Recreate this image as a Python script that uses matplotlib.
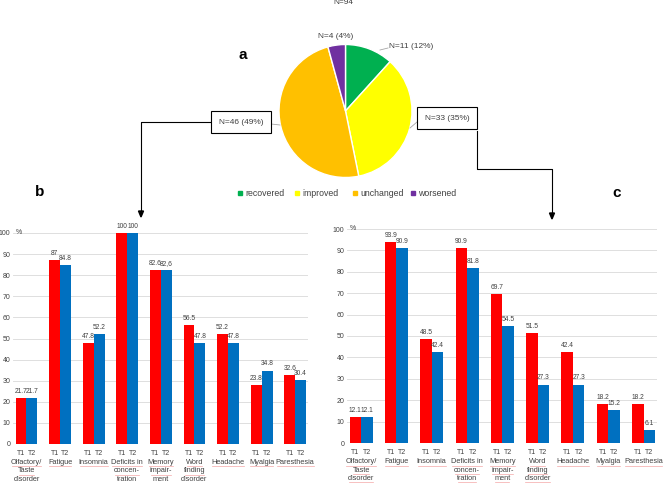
import numpy as np
import matplotlib.pyplot as plt
from matplotlib.lines import Line2D

plt.rcParams['font.family'] = ['Liberation Sans', 'DejaVu Sans']

# data
pie_labels = ['recovered', 'improved', 'unchanged', 'worsened']
pie_counts = [11, 33, 46, 4]
pie_colors = ['#00B050', '#FFFF00', '#FFC000', '#7030A0']

categories = ['Olfactory/\nTaste\ndisorder', 'Fatigue', 'Insomnia',
              'Deficits in\nconcen-\ntration', 'Memory\nimpair-\nment',
              'Word\nfinding\ndisorder', 'Headache', 'Myalgia', 'Paresthesia']
b_t1 = [21.7, 87, 47.8, 100, 82.6, 56.5, 52.2, 28.0, 32.6]
b_t2 = [21.7, 84.8, 52.2, 100, 82.6, 47.8, 47.8, 34.8, 30.4]
b_t1_txt = ['21.7', '87', '47.8', '100', '82.6', '56.5', '52.2', '23.8', '32.6']
b_t2_txt = ['21.7', '84.8', '52.2', '100', '82,6', '47.8', '47.8', '34.8', '30.4']
c_t1 = [12.1, 93.9, 48.5, 90.9, 69.7, 51.5, 42.4, 18.2, 18.2]
c_t2 = [12.1, 90.9, 42.4, 81.8, 54.5, 27.3, 27.3, 15.2, 6.1]

W, H = 669, 483
fig = plt.figure(figsize=(W / 100, H / 100), dpi=100)


def fx(x):
    return x / W


def fy(y):
    return 1 - y / H


RED = '#FF0000'
BLUE = '#0070C0'
TXT = '#404040'
cat_texts = []


def bar_panel(rect, t1, t2, t1_txt, t2_txt):
    ax = fig.add_axes(rect)
    x = np.arange(len(categories))
    w = 0.325
    ax.bar(x - w / 2, t1, w, color=RED, zorder=3)
    ax.bar(x + w / 2, t2, w, color=BLUE, zorder=3)
    for i in range(len(x)):
        ax.text(x[i] - w / 2, t1[i] + 1.5, t1_txt[i], ha='center', va='bottom',
                fontsize=4.8, color=TXT)
        ax.text(x[i] + w / 2, t2[i] + 1.5, t2_txt[i], ha='center', va='bottom',
                fontsize=4.8, color=TXT)
    ax.set_ylim(0, 100)
    ax.set_xlim(-0.4, len(x) - 0.62)
    ax.set_yticks(np.arange(0, 101, 10))
    ax.yaxis.grid(True, color='#D9D9D9', lw=0.6, zorder=0)
    ax.tick_params(axis='y', length=0, labelsize=5, labelcolor=TXT, pad=2)
    ax.set_xticks(np.concatenate([x - w / 2, x + w / 2]))
    ax.set_xticklabels(['T1'] * len(x) + ['T2'] * len(x))
    ax.tick_params(axis='x', length=0, labelsize=5, labelcolor=TXT, pad=4)
    for i, c in enumerate(categories):
        for j, line in enumerate(c.split('\n')):
            t = ax.text(x[i], -7.2 - j * 3.9, line, ha='center', va='top',
                        fontsize=5.3, color=TXT, clip_on=False)
            cat_texts.append(t)
    for s in ax.spines.values():
        s.set_visible(False)
    ax.text(-0.33, 100, '%', ha='left', va='center', fontsize=5, color=TXT)
    return ax


bar_panel([fx(13), fy(444), fx(295), 211 / H], b_t1, b_t2, b_t1_txt, b_t2_txt)
bar_panel([fx(347), fy(443), fx(310), 214 / H], c_t1, c_t2,
          [str(v) for v in c_t1], [str(v) for v in c_t2])

# pie
r = 66.5
pax = fig.add_axes([fx(345.5 - r), fy(111 + r), 2 * r / W, 2 * r / H])
pax.pie(pie_counts, colors=pie_colors, startangle=90, counterclock=False,
        wedgeprops=dict(edgecolor='white', linewidth=1))
pax.set_xlim(-1, 1)
pax.set_ylim(-1, 1)
pax.set_aspect('equal')
pax.axis('off')

fig.text(fx(343), fy(3), 'N=94', ha='center', va='center', fontsize=6, color=TXT)
fig.text(fx(243), fy(55), 'a', ha='center', va='center', fontsize=11, fontweight='bold')
fig.text(fx(40), fy(192), 'b', ha='center', va='center', fontsize=11, fontweight='bold')
fig.text(fx(617), fy(193), 'c', ha='center', va='center', fontsize=11, fontweight='bold')
fig.text(fx(336), fy(37), 'N=4 (4%)', ha='center', va='center', fontsize=6, color=TXT)
fig.text(fx(389), fy(47), 'N=11 (12%)', ha='left', va='center', fontsize=6, color=TXT)
fig.add_artist(Line2D([fx(380), fx(388)], [fy(50), fy(48)], color='#A6A6A6', lw=0.6))

fig.text(fx(241), fy(122), 'N=46 (49%)', ha='center', va='center', fontsize=6, color=TXT,
         bbox=dict(boxstyle='square,pad=0.9', fc='white', ec='black', lw=0.8))
fig.text(fx(447), fy(118), 'N=33 (35%)', ha='center', va='center', fontsize=6, color=TXT,
         bbox=dict(boxstyle='square,pad=0.9', fc='white', ec='black', lw=0.8))
fig.add_artist(Line2D([fx(271), fx(280)], [fy(124), fy(125)], color='#A6A6A6', lw=0.6))
fig.add_artist(Line2D([fx(410), fx(417)], [fy(128), fy(122)], color='#A6A6A6', lw=0.6))

# connectors
fig.add_artist(Line2D([fx(211), fx(141), fx(141)], [fy(122), fy(122), fy(210)],
                      color='black', lw=0.8))
fig.add_artist(Line2D([fx(477), fx(477), fx(552), fx(552)],
                      [fy(131), fy(169), fy(169), fy(212)], color='black', lw=0.8))
for ax_x, tip in [(141, 217), (552, 219)]:
    fig.add_artist(plt.Polygon([[fx(ax_x - 2.5), fy(tip - 6)], [fx(ax_x + 2.5), fy(tip - 6)],
                                [fx(ax_x), fy(tip)]], closed=True, color='black',
                               transform=fig.transFigure))

# legend
leg_x = [240, 297, 355, 413]
for xx, lab, col in zip(leg_x, pie_labels, pie_colors):
    fig.add_artist(plt.Rectangle((fx(xx - 2), fy(195)), 4 / W, 4 / H, color=col,
                                 transform=fig.transFigure))
    fig.text(fx(xx + 5), fy(193), lab, ha='left', va='center', fontsize=6.3, color=TXT)

# spell-check style underlines under category labels
fig.canvas.draw()
rend = fig.canvas.get_renderer()
for t in cat_texts:
    bb = t.get_window_extent(rend)
    fig.add_artist(Line2D([(bb.x0 + 1) / W, (bb.x1 - 1) / W], [(bb.y0 - 0.3) / H] * 2,
                          color='#F4A6A6', lw=0.5))

fig.savefig('out.png', dpi=100)
